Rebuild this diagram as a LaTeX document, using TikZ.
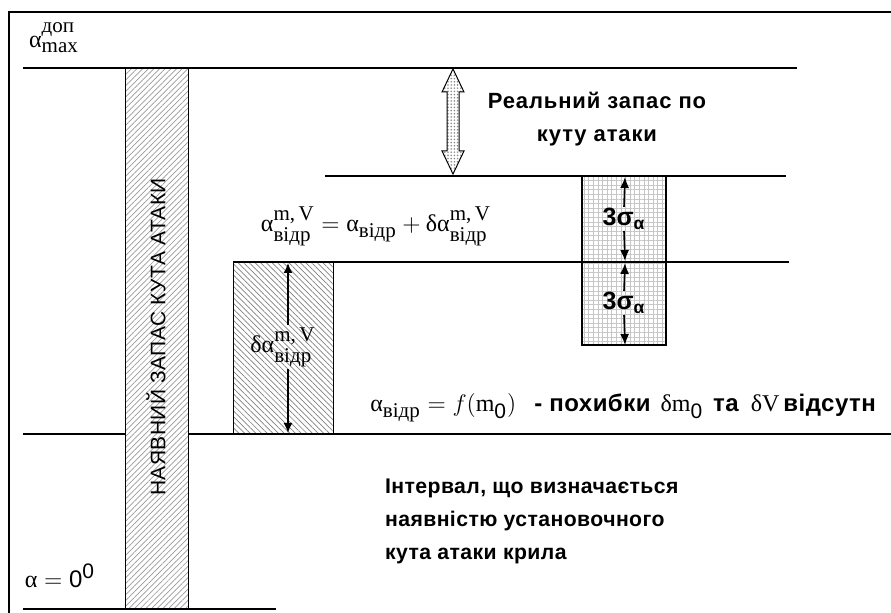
\documentclass[tikz,border=0pt]{standalone}
\usepackage{amsmath}
\usepackage{fontspec}
\setmainfont{Liberation Sans}
\newfontfamily\serfont{Liberation Serif}
\usetikzlibrary{patterns.meta, arrows.meta, calc}
\DeclareMathSizes{12}{12}{10.5}{8}

\newcommand{\alf}{\text{\serfont α}}
\newcommand{\dlt}{\text{\serfont δ}}
\newcommand{\rmt}[1]{\text{\serfont #1}}
\newcommand{\bfs}{\bfseries\fontsize{12}{13}\selectfont\addfontfeatures{LetterSpace=2}}

\tikzset{
  level/.style={line width=1.4pt},
  hatchcol/.style={draw, line width=0.5pt, pattern={Lines[angle=45,distance=2pt,line width=0.35pt]}, pattern color=gray!80},
  hatchbox/.style={draw, line width=0.5pt, pattern={Lines[angle=-45,distance=2pt,line width=0.35pt]}, pattern color=gray},
  gridbox/.style={draw, line width=0.6pt, pattern={Hatch[angle=0,distance=2.3pt,line width=0.35pt]}, pattern color=gray!45},
  sarrow/.style={-{Latex[length=5.5pt,width=4.5pt]}, line width=0.8pt},
  barrow/.style={-{Latex[length=5pt,width=4.5pt]}, line width=0.8pt},
  mathlbl/.style={font=\fontsize{12}{14}\selectfont, inner sep=1pt},
  lbl/.style={font=\bfseries\fontsize{11}{16.5}\selectfont\addfontfeatures{LetterSpace=4}},
  intlbl/.style={font=\bfseries\fontsize{10.6}{16.5}\selectfont\addfontfeatures{LetterSpace=2}},
  vlbl/.style={font=\fontsize{10.5}{12}\selectfont\addfontfeatures{LetterSpace=2}, rotate=90},
  siglbl/.style={font=\bfseries\fontsize{12.5}{14}\selectfont, inner sep=0.5pt}
}

\begin{document}
\begin{tikzpicture}[x=0.5pt, y=-0.5pt]
  \useasboundingbox (0,0) rectangle (891,613);

  % Rahmen
  \draw[line width=0.8pt] (9,613) -- (9,12) -- (891,12);

  % Basislinie (unterbrochen durch die Saeule)
  \draw[level] (23,434) -- (125,434);
  \draw[level] (188,434) -- (891,434);

  % Saeulen und Kaesten
  \draw[hatchcol] (125,68) rectangle (188,609);
  \draw[hatchbox] (233,262) rectangle (333,434);
  \draw[gridbox] (582,176) rectangle (666,262);
  \draw[gridbox] (582,262) rectangle (666,345);

  % Niveaus
  \draw[level] (23,68) -- (797,68);
  \draw[level] (325,176) -- (786,176);
  \draw[level] (233,262) -- (789,262);
  \draw[level] (23,609) -- (276,609);

  % Doppelpfeil (realer Vorrat)
  \draw[line width=0.5pt, pattern={Dots[distance=1.6pt,radius=0.45pt]}, pattern color=gray!90]
    (453,69) -- (464,92) -- (459,92) -- (459,151) -- (464,151) -- (453,174)
    -- (442,151) -- (447,151) -- (447,92) -- (442,92) -- cycle;

  % Punkte fuer die Pfeile
  \coordinate (sTop) at (625,177);
  \coordinate (sMid) at (625,261);
  \coordinate (sMidB) at (625,263);
  \coordinate (sBot) at (625,345);
  \coordinate (dTop) at (288,263);
  \coordinate (dBot) at (288,433);

  % Beschriftungen
  \node[mathlbl] (amax) at (54,38) {$\alf^{\rmt{доп}\rule[-3pt]{0pt}{3pt}}_{\rmt{max}}$};
  \node[mathlbl] (azero) at (60,576) {$\alf = \text{0}^{\text{0}}$};
  \node[vlbl] (nal) at (156,337) {НАЯВНИЙ ЗАПАС КУТА АТАКИ};
  \node[lbl, align=center] (real) at (597,119) {Реальний запас по\\куту атаки};
  \node[mathlbl] (frm) at (376,226) {$\alf^{\rmt{m,\,V}}_{\rmt{відр}} = \alf_{\rmt{відр}} + \dlt\alf^{\rmt{m,\,V}}_{\rmt{відр}}$};
  \node[mathlbl] (dl) at (283,347) {$\dlt\alf^{\rmt{m,\,V}}_{\rmt{відр}}$};
  \node[siglbl] (s1) at (624,219) {3σ\textsubscript{α}};
  \node[siglbl] (s2) at (624,303) {3σ\textsubscript{α}};
  \node[mathlbl, anchor=base west] (bas) at (368,412)
    {$\alf_{\rmt{відр}} = f(\rmt{m}_{\text{0}})$\hspace{9pt}{\bfs- похибки}\hspace{5pt}$\dlt\rmt{m}_{\text{0}}$\hspace{5pt}{\bfs та}\hspace{6pt}$\dlt\rmt{V}$\hspace{2pt}{\bfs відсутн}};
  \node[intlbl, align=left, anchor=north west] (intv) at (378,472)
    {Інтервал, що визначається\\наявністю установочного\\кута атаки крила};

  % Pfeile
  \draw[sarrow] (s1.north) -- (sTop);
  \draw[sarrow] (s1.south) -- (sMid);
  \draw[sarrow] (s2.north) -- (sMidB);
  \draw[sarrow] (s2.south) -- (sBot);
  \draw[barrow] (dl.north -| dTop) -- (dTop);
  \draw[barrow] (dl.south -| dBot) -- (dBot);
\end{tikzpicture}
\end{document}
